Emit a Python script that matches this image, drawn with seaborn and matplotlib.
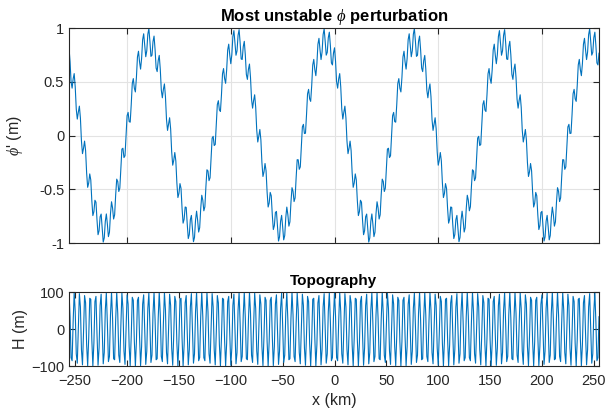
import numpy as np
import pandas as pd
import matplotlib
matplotlib.use("Agg")
import matplotlib.pyplot as plt
import seaborn as sns

# ---- data ----
x_km = np.arange(-256, 256, 1)          # sample grid (km), 1 km spacing
domain_len = 512.0                      # periodic domain length (km)
topo_amp = 100.0                        # topography amplitude (m)
topo_waves = 100                        # number of topography wavelengths in domain
pert_waves = 6                          # number of perturbation wavelengths in domain
pert_amp = 0.87                         # large-scale perturbation amplitude (m)
pert_ripple = 0.13                      # small-scale ripple amplitude (m)
pert_peak_x = -9.0                      # position of a perturbation crest (km)

top_yticks = [-1, -0.5, 0, 0.5, 1]
top_yticklabels = ["-1", "-0.5", "0", "0.5", "1"]
top_xticks = [-200, -100, 0, 100, 200]
bot_xticks = [-250, -200, -150, -100, -50, 0, 50, 100, 150, 200, 250]
bot_yticks = [-100, 0, 100]

k_topo = 2 * np.pi * topo_waves / domain_len
k_pert = 2 * np.pi * pert_waves / domain_len
H = topo_amp * np.cos(k_topo * x_km)
phi = pert_amp * np.cos(k_pert * (x_km - pert_peak_x)) + pert_ripple * np.cos(k_topo * x_km)

df = pd.DataFrame({"x": x_km, "phi": phi, "H": H})

# ---- style ----
sns.set_style("ticks")
plt.rcParams["font.family"] = ["Liberation Sans", "DejaVu Sans"]
plt.rcParams["mathtext.fontset"] = "custom"
plt.rcParams["mathtext.it"] = "Liberation Serif:italic"
edge = "#262626"
line_c = "#0072BD"

fig = plt.figure(figsize=(6.12, 4.11), dpi=100)
ax1 = fig.add_axes([69 / 612, 1 - 243 / 411, 530 / 612, 215 / 411])
ax2 = fig.add_axes([69 / 612, 1 - 366 / 411, 530 / 612, 74 / 411])

sns.lineplot(data=df, x="x", y="phi", ax=ax1, color=line_c, linewidth=0.8)
sns.lineplot(data=df, x="x", y="H", ax=ax2, color=line_c, linewidth=0.8)

for ax in (ax1, ax2):
    ax.set_xlim(-256, 255)
    for s in ax.spines.values():
        s.set_color(edge)
        s.set_linewidth(0.8)
    ax.tick_params(direction="in", top=True, right=True, length=4, width=0.8,
                   colors=edge, labelsize=10.5, labelcolor=edge)

ax1.set_ylim(-1, 1)
ax1.set_yticks(top_yticks)
ax1.set_yticklabels(top_yticklabels)
ax1.set_xticks(top_xticks)
ax1.set_xticklabels([])
ax1.grid(True, color="#e3e3e3", linewidth=0.8)
ax1.set_axisbelow(True)
ax1.set_xlabel("")
ax1.set_ylabel(r"$\phi$' (m)", fontsize=11.5, color=edge, labelpad=10)
ax1.set_title(r"Most unstable $\phi$ perturbation", fontsize=12, fontweight="bold",
              color="black", pad=5)

ax2.set_ylim(-100, 100)
ax2.set_yticks(bot_yticks)
ax2.set_xticks(bot_xticks)
ax2.tick_params(axis="x", pad=6)
ax2.set_xlabel("x (km)", fontsize=11.5, color=edge, labelpad=3)
ax2.set_ylabel("H (m)", fontsize=11.5, color=edge, labelpad=2)
ax2.set_title("Topography", fontsize=11, fontweight="bold", color="black", pad=5)

fig.savefig("out.png", dpi=100, facecolor="white")
